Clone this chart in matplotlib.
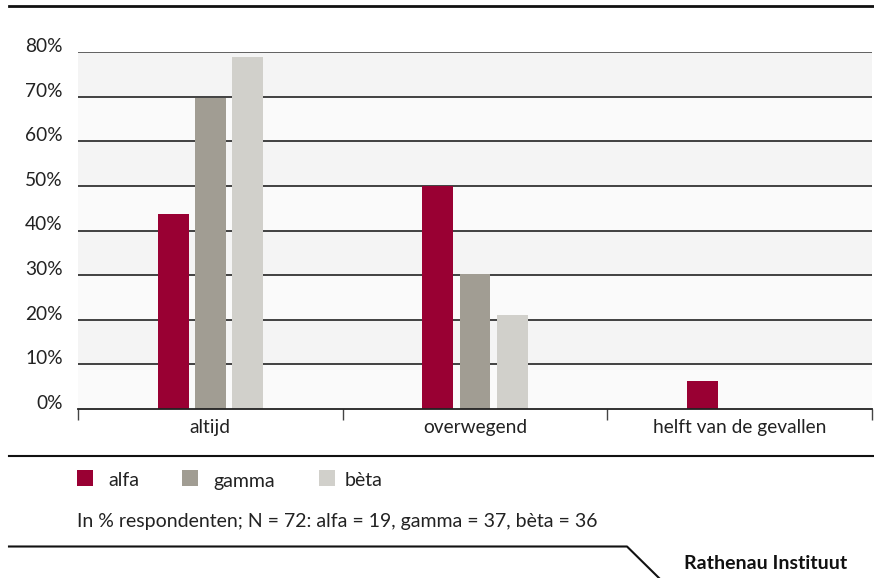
import matplotlib
matplotlib.use("Agg")
import matplotlib.pyplot as plt
from matplotlib.lines import Line2D
from matplotlib.patches import Rectangle
import numpy as np

categories = ["altijd", "overwegend", "helft van de gevallen"]
series_names = ["alfa", "gamma", "bèta"]
alfa = [43.7, 50.0, 6.3]
gamma = [69.7, 30.3, 0.0]
beta = [78.9, 21.1, 0.0]
yticks = [0, 10, 20, 30, 40, 50, 60, 70, 80]
colors = ["#990033", "#a19d93", "#d1d0cb"]
note = "In % respondenten; N = 72: alfa = 19, gamma = 37, bèta = 36"
brand = "Rathenau Instituut"

plt.rcParams['font.family'] = ['Lato', 'DejaVu Sans']

W, H = 874, 578
fig = plt.figure(figsize=(W/100, H/100), dpi=100)
ax = fig.add_axes([78/W, (H-409)/H, 794/W, 357/H])

# alternating bands
for i in range(len(yticks)-1):
    ax.axhspan(yticks[i], yticks[i+1], color="#fafafa" if i % 2 == 0 else "#f4f4f4", zorder=0, lw=0)
for t in yticks[1:]:
    ax.axhline(t, color="#555555" if t == 80 else "#333333", lw=1.3, zorder=1)

x = np.arange(len(categories))
bw = 0.117
off = 0.14
for k, vals in enumerate([alfa, gamma, beta]):
    ax.bar(x + (k-1)*off, vals, width=bw, color=colors[k], zorder=2, lw=0)

ax.set_xlim(-0.5, 2.5)
ax.set_ylim(0, 80)
for s in ["left", "right", "top"]:
    ax.spines[s].set_visible(False)
ax.spines["bottom"].set_color("#222222")
ax.spines["bottom"].set_linewidth(1.3)
ax.spines["bottom"].set_zorder(3)

ax.set_xticks(x)
ax.set_xticklabels(categories, fontsize=13.8, color="#222222")
ax.tick_params(axis="x", which="major", length=0, pad=7)
ax.set_xticks([-0.5, 0.5, 1.5, 2.5], minor=True)
ax.tick_params(axis="x", which="minor", length=8, width=1, color="#444444")
ax.set_yticks(yticks)
ax.set_yticklabels([f"{t}%" for t in yticks], fontsize=13.8, color="#222222")
ax.tick_params(axis="y", length=0, pad=11)
for lab in ax.get_yticklabels():
    lab.set_verticalalignment("baseline")

def fx(px): return px / W
def fy(py): return 1 - py / H

# top line
fig.add_artist(Line2D([fx(9), fx(874)], [fy(6), fy(6)], color="#111111", lw=2))
# line below chart
fig.add_artist(Line2D([fx(9), fx(874)], [fy(455.5), fy(455.5)], color="#111111", lw=1.5))
# bottom line with diagonal
fig.add_artist(Line2D([fx(9), fx(627), fx(659)], [fy(546.5), fy(546.5), fy(578)], color="#111111", lw=1.5))

# legend
lx = [77, 182, 319]
tx = [108, 213, 345]
for k in range(3):
    fig.add_artist(Rectangle((fx(lx[k]), fy(486)), 16/W, 16/H, color=colors[k], lw=0))
    fig.text(fx(tx[k]), fy(486.5), series_names[k], fontsize=14, color="#222222", va="baseline", ha="left")

fig.text(fx(77), fy(527), note, fontsize=14, color="#222222", va="baseline", ha="left")
fig.text(fx(847), fy(569), brand, fontsize=14, fontweight="bold", color="#111111", va="baseline", ha="right")

fig.savefig("out.png", dpi=100)
